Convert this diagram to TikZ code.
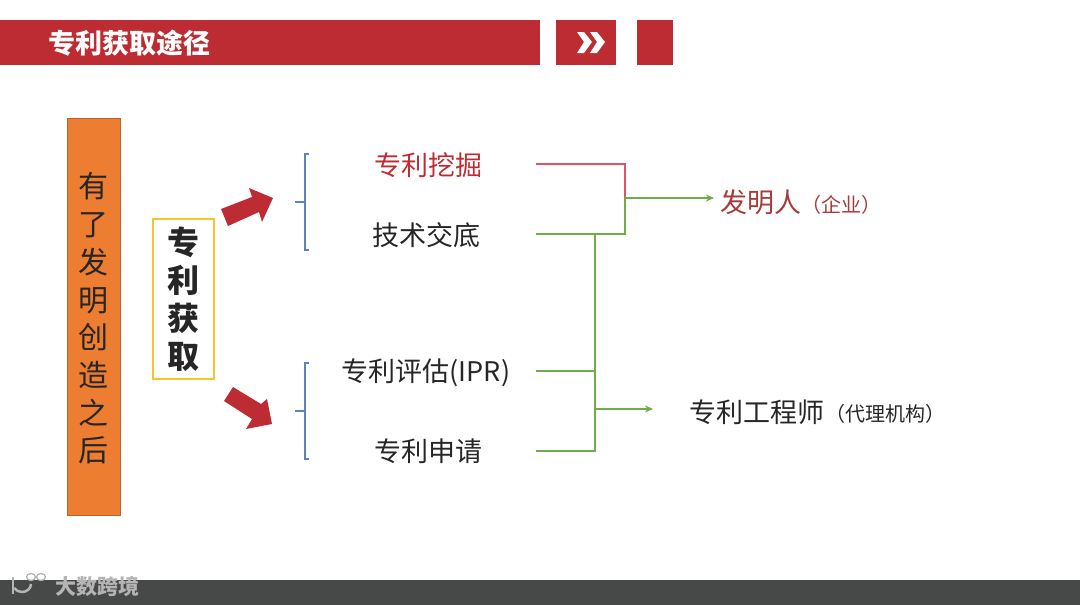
\documentclass[tikz,border=0pt]{standalone}
\usepackage{xcolor}
\usepackage{fontspec}
\setmainfont{Noto Sans CJK SC}
\usepackage{tikz}
\usetikzlibrary{arrows.meta}
\definecolor{barred}{HTML}{BE2C33}
\definecolor{wirered}{HTML}{DC5560}
\definecolor{wiregreen}{HTML}{70AD47}
\definecolor{braceblue}{HTML}{5B83BD}
\definecolor{boxorange}{HTML}{ED7D31}
\definecolor{edgeorange}{HTML}{B5652F}
\definecolor{boxyellow}{HTML}{F5C52C}
\definecolor{footgray}{HTML}{474948}
\definecolor{inkgray}{HTML}{262626}
\definecolor{whored}{HTML}{A83A3A}
\definecolor{markgray}{HTML}{B4B4B4}
\tikzset{
  redbar/.style={fill=barred, draw=none},
  labelbox/.style={minimum width=216pt, inner sep=0pt, font=\fontsize{27}{27}\selectfont, text=inkgray},
  whobox/.style={inner sep=0pt, anchor=west, text=inkgray},
  wire/.style={wiregreen, line width=1.6pt},
  bracket/.style={braceblue, line width=1.2pt},
  blockarrow/.style={fill=barred, draw=none},
  tip/.style={-{Stealth[length=8pt,width=7pt]}}
}
\begin{document}
\begin{tikzpicture}[x=1pt,y=-1pt]
  \useasboundingbox (0,0) rectangle (1080,605);
  % Title bar
  \fill[redbar] (0,20) rectangle (540,65);
  \fill[redbar] (556,20) rectangle (616,65);
  \fill[redbar] (636.5,20) rectangle (673,65);
  \node[anchor=west, inner sep=0pt, text=white, font=\fontsize{27}{27}\selectfont\bfseries] (title) at (48.5,43) {专利获取途径};
  \foreach \dx in {0,13} {
    \fill[white] (577+\dx,32) -- (584+\dx,32) -- (592+\dx,42) -- (584+\dx,53) -- (577+\dx,53) -- (584+\dx,42) -- cycle;
  }
  % Footer
  \fill[footgray] (0,580) rectangle (1080,605);
  \draw[markgray, line width=2.5pt] (13,577) -- (13,594);
  \draw[markgray, line width=2.5pt] (31,584) arc (0:-150:9pt and 8pt);
  \draw[markgray, line width=1.3pt] (31,577) circle (4.5pt and 3.5pt);
  \draw[markgray, line width=1.3pt] (41,577) circle (4.5pt and 3.5pt);
  \node[anchor=west, inner sep=0pt, text=markgray, font=\fontsize{21}{21}\selectfont\bfseries] (mark) at (55,586) {大数跨境};
  % Left boxes
  \node[draw=edgeorange, fill=boxorange, line width=1pt, minimum width=53pt, minimum height=397pt, inner sep=0pt] (after) at (93.5,316.5) {};
  \node[inner sep=0pt, align=center, text=inkgray, font=\fontsize{30}{37.7}\selectfont] (aftertext) at (93.5,318.5) {有\\了\\发\\明\\创\\造\\之\\后};
  \node[draw=boxyellow, line width=1.4pt, minimum width=61pt, minimum height=160pt, inner sep=0pt, align=center, text=inkgray,
    font=\fontsize{32}{38}\selectfont\bfseries] (get) at (183.5,299) {专\\利\\获\\取};
  % Block arrows
  \fill[blockarrow] (221,209) -- (252,197) -- (249,188) -- (273,198) -- (262,222) -- (259,212) -- (228,226) -- cycle;
  \fill[blockarrow] (233,387) -- (261,404) -- (267,399) -- (272,424) -- (246,429) -- (252,419) -- (224,401) -- cycle;
  % Brackets
  \draw[bracket] (309,154) -- (305,154) -- (305,250) -- (309,250);
  \draw[bracket] (295,202) -- (305,202);
  \draw[bracket] (309,363) -- (305,363) -- (305,459) -- (309,459);
  \draw[bracket] (295,411) -- (305,411);
  % Middle labels
  \node[labelbox, text=barred] (dig) at (428,165.5) {专利挖掘};
  \node[labelbox, minimum width=220pt] (tech) at (426,235.5) {技术交底};
  \node[labelbox, minimum width=220pt] (ipr) at (426,373) {专利评估(IPR)};
  \node[labelbox] (apply) at (428,451.5) {专利申请};
  % Right labels
  \node[whobox, text=whored, font=\fontsize{27}{27}\selectfont] (inventor) at (720.5,202.5) {发明人};
  \node[whobox, text=whored, font=\fontsize{20}{20}\selectfont] (company) at (801,205) {（企业）};
  \node[whobox, font=\fontsize{27}{27}\selectfont] (agent) at (689,412) {专利工程师};
  \node[whobox, font=\fontsize{20}{20}\selectfont] (office) at (825,414) {（代理机构）};
  % Connectors
  \coordinate (upjoin) at (625,198);
  \coordinate (lowjoin) at (595,409);
  \coordinate (uptop) at (595,234);
  \coordinate (lowend) at (595,451);
  \coordinate (inventorin) at (714,198);
  \coordinate (agentin) at (653,409);
  \draw[wirered, line width=1.6pt] (dig.east |- 0,164) -| (upjoin);
  \draw[wire] (tech.east |- 0,234) -| (upjoin);
  \draw[wire] (uptop) -- (lowend) -- (apply.east |- lowend);
  \draw[wire] (ipr.east |- 0,371) -- (595,371);
  \draw[wire, tip] (upjoin) -- (inventorin);
  \draw[wire, tip] (lowjoin) -- (agentin);
\end{tikzpicture}
\end{document}
